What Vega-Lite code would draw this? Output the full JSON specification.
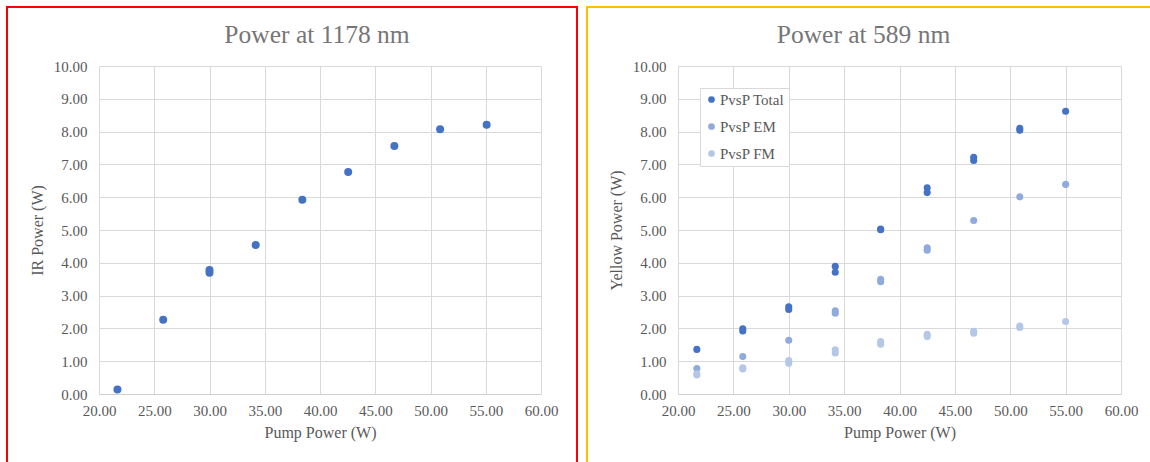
{
  "$schema": "https://vega.github.io/schema/vega-lite/v6.json",
  "padding": {"left": 6, "top": 6, "right": 0, "bottom": 0},
  "background": "white",
  "spacing": 8,
  "resolve": {"legend": {"color": "independent"}, "scale": {"color": "independent"}},
  "config": {
    "font": "Liberation Serif",
    "view": {"stroke": null},
    "axis": {
      "labelFont": "Liberation Serif", "labelFontSize": 15, "labelColor": "#595959",
      "titleFont": "Liberation Serif", "titleFontSize": 16, "titleColor": "#595959", "titleFontWeight": "normal",
      "gridColor": "#D9D9D9", "gridWidth": 1, "ticks": false, "domainColor": "#D0D0D0",
      "labelFlush": false, "labelOverlap": false
    },
    "title": {"font": "Liberation Serif", "fontSize": 25.5, "fontWeight": "normal", "color": "#767676"}
  },
  "datasets": {
    "ir": [
      {"pump": 21.67, "power": 0.14},
      {"pump": 25.81, "power": 2.26},
      {"pump": 30.0, "power": 3.70},
      {"pump": 30.0, "power": 3.78},
      {"pump": 34.18, "power": 4.54},
      {"pump": 38.4, "power": 5.92},
      {"pump": 42.55, "power": 6.77},
      {"pump": 46.73, "power": 7.56},
      {"pump": 50.87, "power": 8.07},
      {"pump": 55.08, "power": 8.21}
    ],
    "yellow": [
      {"pump": 21.7, "power": 1.36, "series": "PvsP Total"},
      {"pump": 25.85, "power": 1.99, "series": "PvsP Total"},
      {"pump": 25.85, "power": 1.92, "series": "PvsP Total"},
      {"pump": 30.0, "power": 2.66, "series": "PvsP Total"},
      {"pump": 30.0, "power": 2.58, "series": "PvsP Total"},
      {"pump": 34.2, "power": 3.89, "series": "PvsP Total"},
      {"pump": 34.2, "power": 3.71, "series": "PvsP Total"},
      {"pump": 38.3, "power": 5.03, "series": "PvsP Total"},
      {"pump": 38.3, "power": 5.01, "series": "PvsP Total"},
      {"pump": 42.5, "power": 6.29, "series": "PvsP Total"},
      {"pump": 42.5, "power": 6.14, "series": "PvsP Total"},
      {"pump": 46.7, "power": 7.22, "series": "PvsP Total"},
      {"pump": 46.7, "power": 7.12, "series": "PvsP Total"},
      {"pump": 50.86, "power": 8.10, "series": "PvsP Total"},
      {"pump": 50.86, "power": 8.04, "series": "PvsP Total"},
      {"pump": 55.0, "power": 8.62, "series": "PvsP Total"},
      {"pump": 21.7, "power": 0.78, "series": "PvsP EM"},
      {"pump": 25.85, "power": 1.14, "series": "PvsP EM"},
      {"pump": 30.0, "power": 1.64, "series": "PvsP EM"},
      {"pump": 34.2, "power": 2.54, "series": "PvsP EM"},
      {"pump": 34.2, "power": 2.46, "series": "PvsP EM"},
      {"pump": 38.3, "power": 3.50, "series": "PvsP EM"},
      {"pump": 38.3, "power": 3.42, "series": "PvsP EM"},
      {"pump": 42.5, "power": 4.46, "series": "PvsP EM"},
      {"pump": 42.5, "power": 4.38, "series": "PvsP EM"},
      {"pump": 46.7, "power": 5.29, "series": "PvsP EM"},
      {"pump": 50.86, "power": 6.01, "series": "PvsP EM"},
      {"pump": 55.0, "power": 6.39, "series": "PvsP EM"},
      {"pump": 21.7, "power": 0.62, "series": "PvsP FM"},
      {"pump": 21.7, "power": 0.58, "series": "PvsP FM"},
      {"pump": 25.85, "power": 0.80, "series": "PvsP FM"},
      {"pump": 25.85, "power": 0.76, "series": "PvsP FM"},
      {"pump": 30.0, "power": 1.02, "series": "PvsP FM"},
      {"pump": 30.0, "power": 0.94, "series": "PvsP FM"},
      {"pump": 34.2, "power": 1.35, "series": "PvsP FM"},
      {"pump": 34.2, "power": 1.25, "series": "PvsP FM"},
      {"pump": 38.3, "power": 1.60, "series": "PvsP FM"},
      {"pump": 38.3, "power": 1.52, "series": "PvsP FM"},
      {"pump": 42.5, "power": 1.82, "series": "PvsP FM"},
      {"pump": 42.5, "power": 1.75, "series": "PvsP FM"},
      {"pump": 46.7, "power": 1.91, "series": "PvsP FM"},
      {"pump": 46.7, "power": 1.85, "series": "PvsP FM"},
      {"pump": 50.86, "power": 2.07, "series": "PvsP FM"},
      {"pump": 50.86, "power": 2.03, "series": "PvsP FM"},
      {"pump": 55.0, "power": 2.21, "series": "PvsP FM"}
    ]
  },
  "hconcat": [
    {
      "width": 442,
      "height": 328,
      "title": {"text": "Power at 1178 nm", "anchor": "middle", "frame": "group", "offset": -42, "dx": -3},
      "layer": [
        {
          "data": {"values": [{"frame": "panel"}]},
          "mark": {"type": "rect", "x": -92, "x2": 478, "y": -59, "y2": 410, "fillOpacity": 0, "stroke": "#FF0000", "strokeWidth": 2},
          "encoding": {}
        },
        {
          "data": {"name": "ir"},
          "mark": {"type": "circle", "size": 64, "opacity": 1, "color": "#4472C4"},
          "encoding": {
            "x": {"field": "pump", "type": "quantitative", "scale": {"domain": [20, 60], "nice": false, "zero": false},
                  "axis": {"values": [20, 25, 30, 35, 40, 45, 50, 55, 60], "format": ".2f", "title": "Pump Power (W)", "labelPadding": 9, "titlePadding": 6}},
            "y": {"field": "power", "type": "quantitative", "scale": {"domain": [0, 10], "nice": false},
                  "axis": {"values": [0, 1, 2, 3, 4, 5, 6, 7, 8, 9, 10], "format": ".2f", "title": "IR Power (W)", "labelPadding": 12, "titlePadding": 8, "domain": false}}
          }
        }
      ]
    },
    {
      "width": 443,
      "height": 328,
      "title": {"text": "Power at 589 nm", "anchor": "middle", "frame": "group", "offset": -42, "dx": -36},
      "layer": [
        {
          "data": {"values": [{"frame": "panel"}]},
          "mark": {"type": "rect", "x": -91, "x2": 480, "y": -59, "y2": 410, "fillOpacity": 0, "stroke": "#FFC000", "strokeWidth": 2},
          "encoding": {}
        },
        {
          "data": {"name": "yellow"},
          "mark": {"type": "circle", "size": 50, "opacity": 1},
          "encoding": {
            "x": {"field": "pump", "type": "quantitative", "scale": {"domain": [20, 60], "nice": false, "zero": false},
                  "axis": {"values": [20, 25, 30, 35, 40, 45, 50, 55, 60], "format": ".2f", "title": "Pump Power (W)", "labelPadding": 9, "titlePadding": 6}},
            "y": {"field": "power", "type": "quantitative", "scale": {"domain": [0, 10], "nice": false},
                  "axis": {"values": [0, 1, 2, 3, 4, 5, 6, 7, 8, 9, 10], "format": ".2f", "title": "Yellow Power (W)", "labelPadding": 12, "titlePadding": 8, "domain": false}},
            "color": {"field": "series", "type": "nominal",
                      "scale": {"domain": ["PvsP Total", "PvsP EM", "PvsP FM"], "range": ["#4472C4", "#8FAADC", "#B4C7E7"]},
                      "legend": {"title": null, "orient": "none", "legendX": 22, "legendY": 22, "fillColor": "white", "strokeColor": "#D9D9D9",
                                 "padding": 4, "rowPadding": 11, "symbolType": "circle", "symbolSize": 45, "labelFont": "Liberation Serif",
                                 "labelFontSize": 15, "labelColor": "#595959", "labelOffset": 1}},
            "order": {"field": "series", "sort": "ascending"}
          }
        }
      ]
    }
  ]
}
